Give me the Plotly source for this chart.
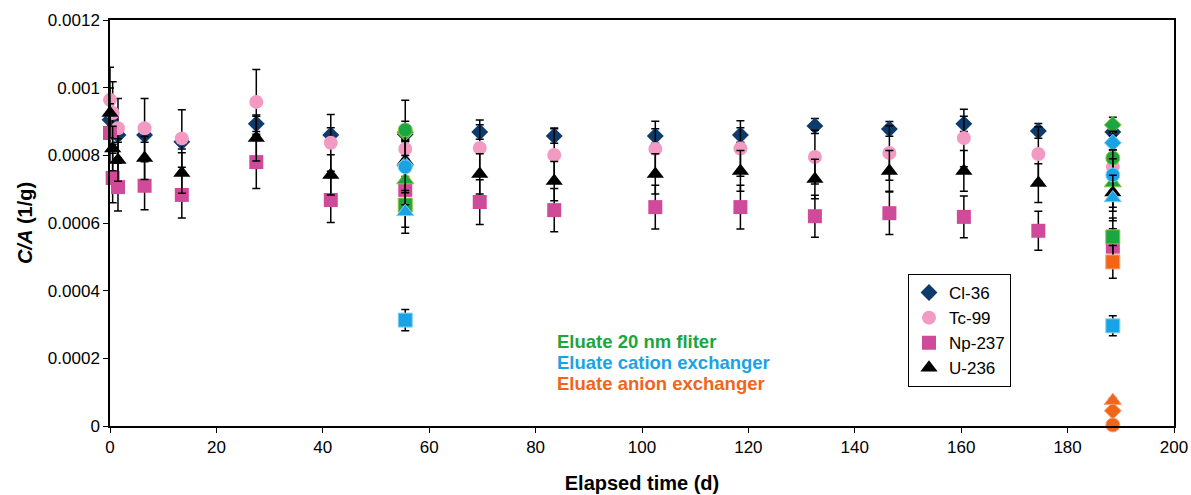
import plotly.graph_objects as go

# ---- data ----
time_d = [0, 0.5, 1.5, 6.5, 13.5, 27.5, 41.5, 55.5, 69.5, 83.5, 102.5, 118.5, 132.5, 146.5, 160.5, 174.5, 188.5]

cl36 = [0.000905, 0.00088, 0.00086, 0.00086, 0.00084, 0.000893, 0.00086, 0.000862, 0.000869, 0.000857,
        0.000857, 0.00086, 0.000887, 0.000878, 0.000893, 0.000872, 0.000869]
tc99 = [0.000964, 0.000925, 0.00088, 0.00088, 0.00085, 0.000958, 0.000837, 0.000819, 0.000822, 0.000801,
        0.000819, 0.00082, 0.000795, 0.000807, 0.000851, 0.000804, 0.000766]
np237 = [0.000866, 0.000733, 0.000706, 0.00071, 0.000683, 0.00078, 0.000668, 0.000698, 0.000662, 0.000638,
         0.000647, 0.000647, 0.00062, 0.000629, 0.000618, 0.000577, 0.00053]
u236 = [0.000925, 0.00082, 0.000786, 0.000792, 0.000748, 0.000851, 0.000742, 0.000783, 0.000745, 0.000724,
        0.000745, 0.000754, 0.00073, 0.000754, 0.000754, 0.000718, 0.00069]

# eluates
eluate_time = [55.5, 188.5]
filter_cl = [0.000868, 0.00089]
filter_tc = [0.000875, 0.000792]
filter_np = [0.000653, 0.000559]
filter_u = [0.000727, 0.000718]

cation_cl = [0.00077, 0.000837]
cation_tc = [0.000766, 0.000742]
cation_np = [0.000313, 0.000296]
cation_u = [0.000633, 0.000674]

anion_time = [188.5]
anion_cl = [0.000045]
anion_tc = [0.000003]
anion_np = [0.000485]
anion_u = [0.000075]

nuclides = ["Cl-36", "Tc-99", "Np-237", "U-236"]
x_ticks = [0, 20, 40, 60, 80, 100, 120, 140, 160, 180, 200]
y_ticks = [0, 0.0002, 0.0004, 0.0006, 0.0008, 0.001, 0.0012]
y_tick_text = ["0", "0.0002", "0.0004", "0.0006", "0.0008", "0.001", "0.0012"]

# ---- styles ----
symbols = {"Cl-36": "diamond", "Tc-99": "circle", "Np-237": "square", "U-236": "triangle-up"}
sizes = {"Cl-36": 13, "Tc-99": 14, "Np-237": 14, "U-236": 15}
err_pct = {"Cl-36": 2.5, "Tc-99": 10, "Np-237": 10, "U-236": 8}
main_colors = {"Cl-36": "#0E3A6C", "Tc-99": "#F39AC3", "Np-237": "#D04A9A", "U-236": "#000000"}

fig = go.Figure()

def err(n, pct=None):
    return dict(type="percent", value=err_pct[n] if pct is None else pct, color="black",
                thickness=1.5, width=4)

main = {"Cl-36": cl36, "Tc-99": tc99, "Np-237": np237, "U-236": u236}
for n in nuclides:
    fig.add_trace(go.Scatter(
        x=time_d, y=main[n], mode="markers", name=n, cliponaxis=False,
        marker=dict(symbol=symbols[n], size=sizes[n], color=main_colors[n],
                    line=dict(width=0)),
        error_y=err(n)))

eluates = [
    ("#1AA640", "#8DC63F", eluate_time, {"Cl-36": filter_cl, "Tc-99": filter_tc, "Np-237": filter_np, "U-236": filter_u}),
    ("#1AA3E4", "#7FD0F5", eluate_time, {"Cl-36": cation_cl, "Tc-99": cation_tc, "Np-237": cation_np, "U-236": cation_u}),
    ("#F26519", "#F7A072", anion_time, {"Cl-36": anion_cl, "Tc-99": anion_tc, "Np-237": anion_np, "U-236": anion_u}),
]
for col, edge, xs, vals in eluates:
    for n in nuclides:
        fig.add_trace(go.Scatter(
            x=xs, y=vals[n], mode="markers", showlegend=False, cliponaxis=False,
            marker=dict(symbol=symbols[n], size=sizes[n], color=col,
                        line=dict(width=1, color=edge)),
            error_y=err(n, 2.5 if n == "Cl-36" else 10)))

labels = [("Eluate 20 nm fliter", "#1AA640"),
          ("Eluate cation exchanger", "#1AA3E4"),
          ("Eluate anion exchanger", "#F26519")]
for i, (t, c) in enumerate(labels):
    fig.add_annotation(x=(555 - 110) / 1064, y=(426 - 341 - 21 * i) / 406, xref="paper", yref="paper",
                       text="<b>" + t + "</b>", showarrow=False, xanchor="left", yanchor="middle",
                       font=dict(size=18.5, color=c, family="Liberation Sans, Arial, sans-serif"))

fig.update_layout(
    width=1191, height=495,
    margin=dict(l=110, r=17, t=20, b=69),
    paper_bgcolor="white", plot_bgcolor="white",
    font=dict(family="Liberation Sans, Arial, sans-serif", size=16, color="black"),
    showlegend=True,
    legend=dict(x=(908 - 110) / 1064, y=(426 - 274) / 406, xanchor="left", yanchor="top",
                bordercolor="black", borderwidth=1, bgcolor="white",
                font=dict(size=17), itemwidth=30, tracegroupgap=0,
                traceorder="normal"),
)
fig.update_xaxes(range=[0, 200], tickvals=x_ticks, ticks="outside", ticklen=5, tickwidth=1,
                 tickcolor="black", showline=True, linecolor="black", linewidth=1.5, mirror=True,
                 showgrid=False, zeroline=False, tickfont=dict(size=17), automargin=False,
                 title=dict(text="<b>Elapsed time (d)</b>", font=dict(size=20), standoff=20))
fig.update_yaxes(range=[0, 0.0012], tickvals=y_ticks, ticktext=y_tick_text, ticks="outside", ticklen=5,
                 tickwidth=1, tickcolor="black", showline=True, linecolor="black", linewidth=1.5,
                 mirror=True, showgrid=False, zeroline=False, tickfont=dict(size=17), automargin=False,
                 title=dict(text="<b><i>C/A</i> (1/g)</b>", font=dict(size=20), standoff=10))

fig.write_html("out.html")
